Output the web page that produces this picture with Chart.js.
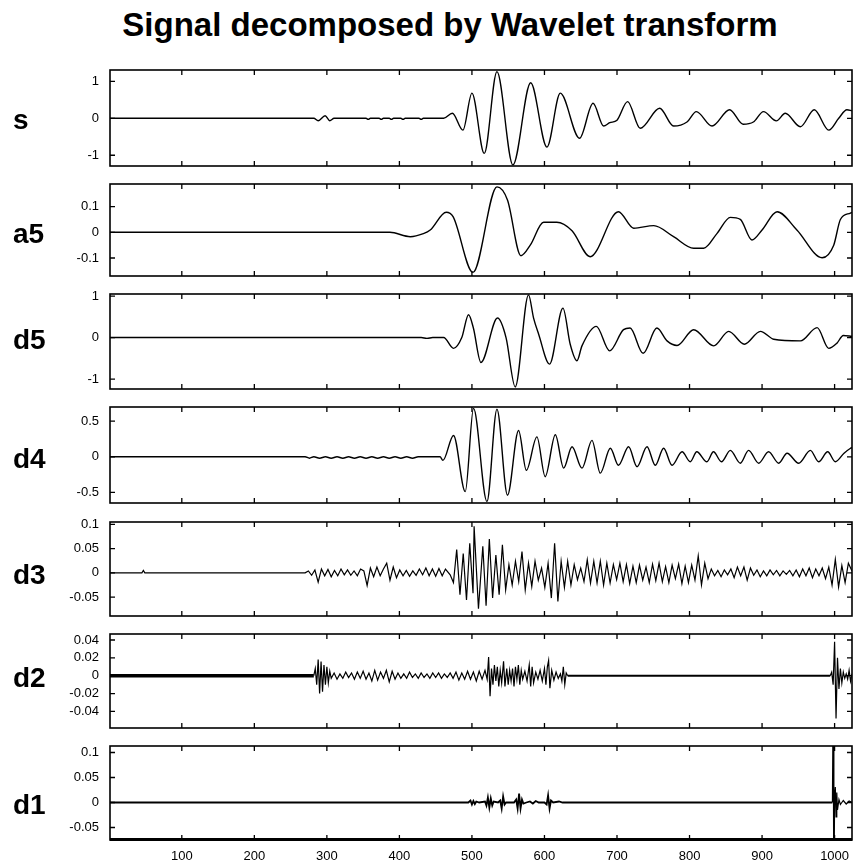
<!DOCTYPE html>
<html>
<head>
<meta charset="utf-8">
<script src="https://cdn.jsdelivr.net/npm/chart.js@4.4.1/dist/chart.umd.min.js"></script>
<style>
    body { margin: 0; background: #fff; width: 853px; height: 867px; position: relative; overflow: hidden; font-family: "Liberation Sans", Arial, sans-serif; }
    #title { position: absolute; left: 0; top: 6px; width: 900px; text-align: center; font-weight: bold; font-size: 33px; color: #000; }
    .rowLabel { position: absolute; left: 13px; font-weight: bold; font-size: 28px; line-height: 32px; color: #000; }
    canvas { position: absolute; left: 0; }
</style>
</head>
<body>
<div id="title">Signal decomposed by Wavelet transform</div>
<script>
const panelNames = ["s", "a5", "d5", "d4", "d3", "d2", "d1"];

const xTicks = [100, 200, 300, 400, 500, 600, 700, 800, 900, 1000];

const sTicks = [-1, 0, 1];
const a5Ticks = [-0.1, 0, 0.1];
const d5Ticks = [-1, 0, 1];
const d4Ticks = [-0.5, 0, 0.5];
const d3Ticks = [-0.05, 0, 0.05, 0.1];
const d2Ticks = [-0.04, -0.02, 0, 0.02, 0.04];
const d1Ticks = [-0.05, 0, 0.05, 0.1];

const sRange = [-1.29, 1.305];
const a5Range = [-0.17, 0.188];
const d5Range = [-1.24, 1.05];
const d4Range = [-0.65, 0.70];
const d3Range = [-0.089, 0.105];
const d2Range = [-0.0586, 0.0467];
const d1Range = [-0.075, 0.113];

// [sample, value]
const sData = [
    [1, 0], [282, 0], [288, -0.065], [297.6, 0.07], [304, -0.065], [310, 0],
    [354, 0], [357, -0.03], [360, 0], [372, 0], [375, -0.03], [378, 0],
    [386, 0], [389, -0.03], [392, 0], [402, 0], [405, -0.03], [408, 0],
    [427, 0], [430, -0.03], [433, 0], [461, 0], [473, 0.135], [487.6, -0.32],
    [500, 0.68], [517, -0.95], [534.5, 1.26], [556.5, -1.26], [581, 0.96],
    [603.4, -0.78], [621.8, 0.68], [648.4, -0.54], [667, 0.405], [681.6, -0.21],
    [690, -0.12], [700, -0.05], [714.6, 0.45], [732, -0.27], [758.8, 0.27],
    [778, -0.21], [796.5, -0.1], [809.4, 0.18], [831, -0.21], [855.3, 0.23],
    [873.8, -0.16], [888, -0.1], [902, 0.18], [919.7, -0.07], [932, 0.135],
    [952.8, -0.23], [972, 0.23], [992, -0.32], [1005.7, 0], [1017, 0.23], [1024, 0.2]
];

const a5Data = [
    [1, 0], [387, 0], [415, -0.017], [433, -0.005], [442.5, 0.009], [464.6, 0.078],
    [474, 0.061], [501.4, -0.156], [534.5, 0.177], [549, 0.126], [567.6, -0.091],
    [580.4, -0.05], [598.8, 0.039], [617, 0.039], [638, 0.006], [663, -0.095],
    [702, 0.08], [723, 0.016], [750.7, 0.026], [778, -0.017], [805.7, -0.062],
    [819.5, -0.062], [838, -0.004], [856.3, 0.058], [870, 0.05], [886, -0.03],
    [900, 0.009], [920.7, 0.08], [948, 0.009], [982.8, -0.099], [998.8, -0.05],
    [1008, 0.05], [1021.8, 0.075], [1024, 0.078]
];

const d5Data = [
    [1, 0], [430, 0], [438, -0.02], [446, 0], [461, 0], [474.6, -0.26], [486, 0],
    [495.3, 0.55], [502, 0.23], [512.4, -0.6], [535.3, 0.47], [547, 0],
    [559.7, -1.19], [578, 1.03], [585, 0.47], [592, 0.08], [607, -0.64],
    [625.5, 0.71], [635.5, -0.16], [644.8, -0.56], [651.7, -0.2], [671.5, 0.27],
    [689.8, -0.32], [709, 0.19], [718, 0.23], [736, -0.38], [755, 0.23],
    [769, -0.08], [782.8, -0.19], [805.7, 0.19], [833.3, -0.2], [854, 0.15],
    [875.6, -0.16], [897.7, 0.15], [916, -0.04], [953, -0.08], [975.9, 0.24],
    [991.9, -0.26], [1003, -0.14], [1012, 0.05], [1024, 0.03]
];

const d4Data = [
    [1, 0], [270, 0], [276, -0.02], [282, 0], [290, -0.02], [298, 0], [306, -0.02],
    [314, 0], [322, -0.02], [330, 0], [338, -0.02], [346, 0], [354, -0.02],
    [362, 0], [370, -0.02], [378, 0], [386, -0.02], [394, 0], [402, -0.02],
    [410, 0], [418, -0.02], [426, 0], [456, 0], [460, -0.05], [474.6, 0.30],
    [490.8, -0.49], [502.2, 0.68], [520.7, -0.63], [534.5, 0.67], [549, -0.54],
    [564.3, 0.37], [575, -0.19], [589.6, 0.28], [601, -0.28], [615, 0.31],
    [626.4, -0.16], [638, 0.14], [651.7, -0.16], [665.5, 0.23], [677, -0.23],
    [690.8, 0.12], [702, -0.12], [716, 0.14], [727.6, -0.14], [741.4, 0.14],
    [752.8, -0.12], [764.3, 0.12], [775.9, -0.12], [789.7, 0.07], [801, -0.07],
    [810, 0.07], [824, -0.07], [833, 0.07], [844, -0.07], [856.3, 0.09],
    [870, -0.09], [881.5, 0.09], [895.3, -0.09], [909, 0.07], [923, -0.09],
    [934.5, 0.05], [950.5, -0.09], [966.6, 0.09], [978, -0.07], [990.5, 0.07],
    [1001, -0.07], [1013, 0.05], [1022, 0.12], [1024, 0.13]
];

const d3Data = [
    [1, 0], [45, 0], [47, 0.005], [49, 0], [270, 0],
    [274.5, 0.004], [279, -0.005], [283.5, 0.006], [288, -0.019], [292.5, 0.008],
    [297, -0.006], [301.5, 0.007], [306, -0.008], [310.5, 0.005], [315, -0.006],
    [319.5, 0.008], [324, -0.004], [328.5, 0.006], [333, -0.005], [337.5, 0.004],
    [342, -0.006], [346.5, 0.008], [351, 0.004], [355.5, -0.026], [360, 0.01],
    [364.5, -0.008], [369, 0.012], [373.5, -0.006], [378, 0.008], [382.5, 0.02],
    [387, -0.015], [391.5, 0.012], [396, -0.01], [400.5, 0.006], [405, -0.006],
    [409.5, 0.005], [414, -0.007], [418.5, 0.004], [423, -0.005], [427.5, 0.008],
    [432, -0.004], [436.5, 0.01], [441, -0.006], [445.5, 0.008], [450, -0.007],
    [454.5, 0.009], [459, -0.006], [463.5, 0.008], [470, -0.004],
    [474.5, -0.02], [479, 0.048], [483.5, -0.045], [488, 0.04], [492.5, -0.056],
    [497, 0.061], [501.5, -0.042], [503, 0.096], [509, -0.074], [515, 0.055],
    [519.5, -0.068], [524, 0.07], [528.5, -0.052], [533, 0.037], [537.5, -0.045],
    [542, 0.058], [546.5, -0.035], [551, 0.017], [555.5, -0.025], [560, 0.024],
    [564.5, -0.018], [569, 0.044], [573.5, -0.035], [578, 0.02], [582.5, -0.028],
    [587, 0.024], [591.5, -0.015], [596, 0.01], [600.5, -0.03], [605, 0.02],
    [609.5, -0.052], [614, 0.061], [618.5, -0.059], [623, 0.024], [627.5, -0.03],
    [632, 0.024], [636.5, -0.025], [641, 0.017], [645.5, -0.014], [650, 0.01],
    [654.5, -0.018], [659, 0.027], [663.5, -0.021], [668, 0.024], [672.5, -0.021],
    [677, 0.024], [681.5, -0.025], [686, 0.02], [690.5, -0.021], [695, 0.017],
    [699.5, -0.014], [704, 0.02], [708.5, -0.018], [713, 0.017], [717.5, -0.022],
    [722, 0.014], [726.5, -0.02], [731, 0.016], [735.5, -0.015], [740, 0.012],
    [744.5, -0.02], [749, 0.018], [753.5, -0.016], [758, 0.02], [762.5, -0.018],
    [767, 0.013], [771.5, -0.02], [776, 0.016], [780.5, -0.012], [785, 0.018],
    [789.5, -0.022], [794, 0.014], [798.5, -0.02], [803, 0.016], [807.5, -0.015],
    [812, 0.035], [816.5, -0.025], [821, 0.02], [825.5, -0.012], [830, 0.008],
    [834.5, -0.006], [839, 0.005], [843.5, -0.008], [848, 0.006], [852.5, -0.004],
    [857, 0.008], [861.5, -0.01], [866, 0.012], [870.5, -0.006], [875, 0.012],
    [879.5, -0.015], [884, 0.01], [888.5, -0.005], [893, 0.006], [897.5, -0.008],
    [902, 0.004], [906.5, -0.006], [911, 0.006], [915.5, -0.004], [920, 0.005],
    [924.5, -0.006], [929, 0.004], [933.5, -0.003], [938, 0.005], [942.5, -0.006],
    [947, 0.006], [951.5, -0.008], [956, 0.008], [960.5, -0.006], [965, 0.01],
    [969.5, -0.01], [974, 0.008], [978.5, -0.006], [983, 0.01], [987.5, -0.012],
    [992, 0.012], [996.5, -0.025], [1001, 0.028], [1005.5, -0.029], [1010, 0.015],
    [1014.5, -0.02], [1019, 0.02], [1024, 0.004]
];

const d2Data = [
    [1, 0], [282, 0], [284, 0.008], [286, -0.01], [288, 0.018], [290, -0.02],
    [292, 0.016], [294, -0.018], [296, 0.012], [298, -0.01], [300, 0.01],
    [302, -0.008], [304, 0.005], [306, -0.003], [310, 0.003], [314, -0.004],
    [318, 0.002], [322, -0.003], [326, 0.004], [330, -0.002], [334, 0.003],
    [338, -0.004], [342, 0.004], [346, -0.003], [350, 0.005], [354, -0.004],
    [358, 0.003], [362, -0.006], [366, 0.006], [370, -0.005], [374, 0.004],
    [378, -0.003], [382, 0.006], [386, -0.007], [390, 0.005], [394, -0.004],
    [398, 0.003], [402, -0.003], [406, 0.002], [410, -0.003], [414, 0.004],
    [418, -0.002], [422, 0.002], [426, -0.003], [430, 0.003], [434, -0.002],
    [438, 0.002], [442, -0.003], [446, 0.003], [450, -0.002], [454, 0.003],
    [458, -0.003], [462, 0.002], [466, -0.002], [470, 0.003], [474, -0.003],
    [478, 0.004], [482, -0.005], [486, 0.003], [490, -0.004], [494, 0.005],
    [498, -0.004], [502, 0.004], [506, -0.006], [510, 0.005], [514, -0.004],
    [518, 0.006], [521, -0.004], [523, 0.021], [525, -0.023], [527, 0.008],
    [529, -0.01], [531, 0.012], [533, -0.006], [535, 0.01], [537, -0.012],
    [539, 0.006], [541, -0.008], [543.6, 0.016], [545.5, -0.012], [548, 0.008],
    [550, -0.01], [552, 0.006], [554, -0.006], [556, 0.008], [558, -0.012],
    [560, 0.01], [562, -0.004], [564, 0.012], [566, -0.01], [568, 0.006],
    [570, -0.004], [573, 0.005], [576, -0.006], [579, 0.012], [581, -0.012],
    [583, 0.01], [585, -0.008], [588, 0.004], [591, -0.004], [594, 0.006],
    [597, -0.006], [600, 0.008], [602, -0.01], [604, 0.01], [605.7, 0.017],
    [607.5, -0.014], [610, 0.006], [613, -0.005], [616, 0.004], [619, -0.003],
    [622, 0.002], [624, -0.006], [626, 0.01], [628, -0.01], [630, 0.003],
    [632, 0], [994, 0], [996, 0.004], [998, -0.01], [1000, 0.038], [1002, -0.048],
    [1004, 0.02], [1006, -0.015], [1008, 0.008], [1010, -0.008], [1012, 0.004],
    [1014, -0.003], [1016, 0.002], [1018, -0.004], [1020, 0.006], [1022, -0.006],
    [1024, 0.002]
];

const d1Data = [
    [1, 0], [495, 0], [498, 0.004], [500, -0.004], [502, 0.003], [504, -0.003],
    [506, 0.002], [510, 0], [518, 0.002], [520, -0.006], [522, 0.01], [524, -0.01],
    [526, 0.008], [528, -0.006], [530, 0.002], [536, 0], [539, 0.004], [541, -0.012],
    [543, 0.012], [545, -0.004], [547, 0], [558, 0], [561, 0.006], [563, -0.012],
    [565, 0.018], [567, -0.012], [569, 0.006], [571, -0.002], [575, 0], [580, 0.002],
    [584, -0.002], [588, 0.003], [592, 0], [600, 0], [603, -0.004], [605, 0.014],
    [607, -0.012], [609, 0.004], [612, 0], [620, 0.002], [625, 0], [997, 0],
    [998, 0.2], [999, -0.2], [1000, 0.01], [1001, 0.031], [1002, -0.029],
    [1003, 0.02], [1004, -0.015], [1006, 0.006], [1008, -0.004], [1012, 0.004],
    [1016, -0.003], [1020, 0.003], [1024, 0]
];

const panelSeries = [sData, a5Data, d5Data, d4Data, d3Data, d2Data, d1Data];
const panelTicks = [sTicks, a5Ticks, d5Ticks, d4Ticks, d3Ticks, d2Ticks, d1Ticks];
const panelRanges = [sRange, a5Range, d5Range, d4Range, d3Range, d2Range, d1Range];
const panelSmooth = [true, true, true, true, false, false, false];

// layout of the figure (pixels)
const panelTops = [70, 184, 294, 407, 522, 634, 746];
const panelBottoms = [166, 276, 389, 503, 616, 728, 840];
const canvasPad = 8;

const frameTicks = {
    id: 'frameTicks',
    afterDatasetsDraw(chart, args, opts) {
        const { ctx, chartArea: a, scales: { x, y } } = chart;
        ctx.save();
        ctx.strokeStyle = '#000';
        ctx.lineWidth = 1.6;
        ctx.strokeRect(a.left, a.top, a.right - a.left, a.bottom - a.top);
        if (opts.thickBottom) {
            ctx.lineWidth = 3;
            ctx.beginPath();
            ctx.moveTo(a.left, a.bottom - 0.5);
            ctx.lineTo(a.right, a.bottom - 0.5);
            ctx.stroke();
        }
        ctx.lineWidth = 1.3;
        ctx.beginPath();
        xTicks.forEach(v => {
            const px = x.getPixelForValue(v);
            ctx.moveTo(px, a.top); ctx.lineTo(px, a.top + 5);
            ctx.moveTo(px, a.bottom); ctx.lineTo(px, a.bottom - 5);
        });
        y.ticks.forEach(t => {
            const py = y.getPixelForValue(t.value);
            ctx.moveTo(a.left, py); ctx.lineTo(a.left + 5, py);
            ctx.moveTo(a.right, py); ctx.lineTo(a.right - 5, py);
        });
        ctx.stroke();
        ctx.restore();
    }
};

let jFSegmentWidth = ({ inIndex }) => {
    if (inIndex === 5) {
        return ctx => {
            const x0 = ctx.p0.parsed.x;
            if (x0 < 282) return 3.5;
            if (x0 >= 632 && x0 < 994) return 2;
            return 1.2;
        };
    }
    if (inIndex === 6) {
        return ctx => {
            const x0 = ctx.p0.parsed.x;
            if (x0 < 997) return 1.8;
            return 1.2;
        };
    }
    if (inIndex === 4) return () => 1.2;
    return undefined;
};

let jFNoPadding = s => {
    s.paddingTop = 0;
    s.paddingBottom = 0;
    s.paddingLeft = 0;
    s.paddingRight = 0;
};

let jFBuildPanel = ({ inIndex }) => {
    const isLast = inIndex === panelNames.length - 1;
    const top = panelTops[inIndex];
    const plotH = panelBottoms[inIndex] - top;
    const xAxisH = isLast ? 30 : 0;

    const canvas = document.createElement('canvas');
    canvas.width = 853;
    canvas.height = plotH + canvasPad + (isLast ? xAxisH : canvasPad);
    canvas.style.top = (top - canvasPad) + 'px';
    document.body.appendChild(canvas);

    const yTickValues = panelTicks[inIndex];
    const range = panelRanges[inIndex];

    const chart = new Chart(canvas, {
        type: 'line',
        data: {
            datasets: [{
                data: panelSeries[inIndex].map(p => ({ x: p[0], y: p[1] })),
                borderColor: '#000',
                borderWidth: 1.4,
                pointRadius: 0,
                fill: false,
                clip: 0,
                cubicInterpolationMode: panelSmooth[inIndex] ? 'monotone' : 'default',
                segment: { borderWidth: jFSegmentWidth({ inIndex }) }
            }]
        },
        options: {
            responsive: false,
            animation: false,
            layout: { padding: { top: canvasPad, bottom: isLast ? 0 : canvasPad, left: 0, right: 1 } },
            plugins: {
                legend: { display: false },
                tooltip: { enabled: false },
                frameTicks: { thickBottom: isLast }
            },
            scales: {
                x: {
                    type: 'linear',
                    min: 1,
                    max: 1024,
                    display: isLast,
                    grid: { display: false, drawTicks: false },
                    border: { display: false },
                    ticks: {
                        color: '#000',
                        font: { family: '"Liberation Sans", Arial, sans-serif', size: 13 },
                        padding: 9,
                        maxRotation: 0,
                        autoSkip: false,
                        callback: v => String(v)
                    },
                    afterBuildTicks: s => { s.ticks = xTicks.map(v => ({ value: v })); },
                    afterFit: s => { s.height = xAxisH; jFNoPadding(s); }
                },
                y: {
                    type: 'linear',
                    min: range[0],
                    max: range[1],
                    grid: { display: false, drawTicks: false },
                    border: { display: false },
                    ticks: {
                        color: '#000',
                        font: { family: '"Liberation Sans", Arial, sans-serif', size: 13 },
                        padding: 11,
                        callback: v => String(v)
                    },
                    afterBuildTicks: s => { s.ticks = yTickValues.map(v => ({ value: v })); },
                    afterFit: s => { s.width = 110; jFNoPadding(s); }
                }
            }
        },
        plugins: [frameTicks]
    });

    const zeroY = chart.scales.y.getPixelForValue(0) + top - canvasPad;
    const label = document.createElement('div');
    label.className = 'rowLabel';
    label.textContent = panelNames[inIndex];
    label.style.top = (zeroY - 14) + 'px';
    document.body.appendChild(label);
};

const StartFunc = () => {
    panelNames.forEach((name, i) => jFBuildPanel({ inIndex: i }));
};

StartFunc();
</script>
</body>
</html>
